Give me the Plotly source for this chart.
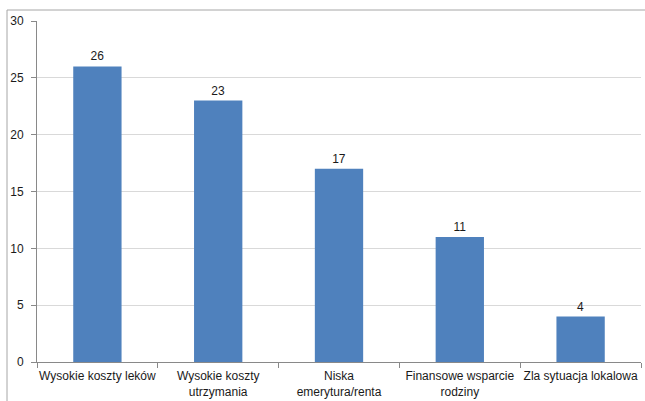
import plotly.graph_objects as go

categories = [
    "Wysokie koszty leków",
    "Wysokie koszty<br>utrzymania",
    "Niska<br>emerytura/renta",
    "Finansowe wsparcie<br>rodziny",
    "Zla sytuacja lokalowa",
]
values = [26, 23, 17, 11, 4]
y_ticks = [0, 5, 10, 15, 20, 25, 30]

W, H = 645, 401
L, R, T, B = 37, 4, 21, 39
pw, ph = W - L - R, H - T - B

font = dict(family="Liberation Sans, Arial, sans-serif", size=12, color="#1a1a1a")

fig = go.Figure(
    go.Bar(
        x=categories,
        y=values,
        marker=dict(color="#4F81BD", line=dict(width=0)),
        width=0.4,
        text=[str(v) for v in values],
        textposition="outside",
        textfont=font,
        cliponaxis=False,
    )
)

fig.update_layout(
    width=W,
    height=H,
    margin=dict(l=L, r=R, t=T, b=B, autoexpand=False),
    paper_bgcolor="white",
    plot_bgcolor="white",
    font=font,
    showlegend=False,
    bargap=0.6,
    xaxis=dict(
        showgrid=False,
        showline=True,
        linecolor="#898989",
        linewidth=1,
        ticks="outside",
        ticklen=5,
        tickcolor="#898989",
        tickson="boundaries",
        tickfont=font,
        tickangle=0,
        automargin=False,
        ticklabelstandoff=3,
    ),
    yaxis=dict(
        range=[0, 30],
        tickvals=y_ticks,
        showgrid=True,
        gridcolor="#D9D9D9",
        gridwidth=1,
        showline=True,
        linecolor="#898989",
        linewidth=1,
        ticks="outside",
        ticklen=5,
        tickcolor="#898989",
        tickfont=font,
        automargin=False,
        ticklabelstandoff=5,
        zeroline=False,
    ),
    shapes=[
        dict(
            type="rect",
            xref="paper",
            yref="paper",
            x0=(7 - L) / pw,
            x1=(W + 5 - L) / pw,
            y0=(T + ph - (H + 5)) / ph,
            y1=(T + ph - 10) / ph,
            line=dict(color="#A6A6A6", width=1),
            fillcolor="rgba(0,0,0,0)",
            layer="below",
        )
    ],
)

fig.write_html("out.html")
